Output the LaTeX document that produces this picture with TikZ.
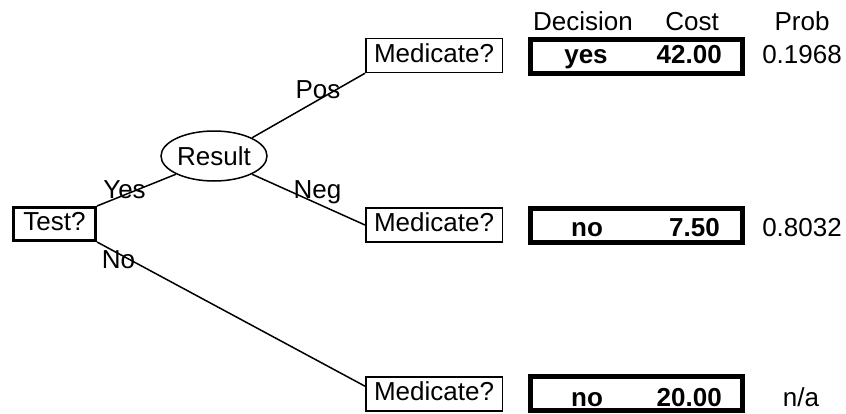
\documentclass[tikz,border=0pt]{standalone}
\usepackage{fontspec}
\setmainfont{Liberation Sans}
\usetikzlibrary{calc,shapes.geometric}
\begin{document}
\begin{tikzpicture}[x=1pt,y=-1pt,
  every node/.style={font=\fontsize{26}{30}\selectfont},
  edge/.style={line width=1.5pt},
  qbox/.style={draw,line width=1.5pt,inner xsep=7pt,inner ysep=4.75pt,text height=19pt,text depth=5.5pt,minimum width=136.5pt,minimum height=34pt},
  tbox/.style={draw,line width=3pt,inner xsep=8pt,inner ysep=4pt,text height=19pt,text depth=5.5pt,minimum width=82pt,minimum height=33pt},
  dbox/.style={draw,line width=5pt,minimum width=212pt,minimum height=34pt,inner sep=0pt},
  chance/.style={draw,ellipse,line width=1.5pt,minimum width=106pt,minimum height=50pt,inner sep=0pt},
  lbl/.style={anchor=base,inner sep=0pt},
  bval/.style={anchor=base,inner sep=0pt,font=\fontsize{26}{30}\selectfont\bfseries}
]
\useasboundingbox (0,0) rectangle (846,413);
\fill[white] (0,0) rectangle (846,413);

\node[tbox] (t) at (54.5,224) {Test?};
\node[chance] (r) at (214,156) {Result};
\node[qbox] (m1) at (434,55.5) {Medicate?};
\node[qbox] (m2) at (434,225) {Medicate?};
\node[qbox] (m3) at (434,394) {Medicate?};

\coordinate (m3in) at ($(m3.north west)!0.28!(m3.south west)$);

\draw[edge] (t.north east) -- (r.south west);
\draw[edge] (r.north east) -- (m1.south west);
\draw[edge] (r.south east) -- (m2.west);
\draw[edge] (t.south east) -- (m3in);

\node[lbl] (lpos) at (318,98) {Pos};
\node[lbl] (lyes) at (124.5,198) {Yes};
\node[lbl] (lneg) at (317.5,198) {Neg};
\node[lbl] (lno) at (118.5,268) {No};

\node[dbox] (d1) at (636.5,56.5) {};
\node[dbox] (d2) at (636.5,225.5) {};
\node[dbox] (d3) at (636.5,393.5) {};

\node[lbl] (hdec) at (583,30) {Decision};
\node[lbl] (hcost) at (692,30) {Cost};
\node[lbl] (hprob) at (802,30) {Prob};

\node[bval] (dec1) at (586,63) {yes};
\node[bval,anchor=base east] (c1) at (722,63) {42.00};
\node[lbl,anchor=base east] (p1) at (842,63) {0.1968};

\node[bval] (dec2) at (587,236.5) {no};
\node[bval,anchor=base east] (c2) at (720,236.5) {7.50};
\node[lbl,anchor=base east] (p2) at (842,236.5) {0.8032};

\node[bval] (dec3) at (587,406) {no};
\node[bval,anchor=base east] (c3) at (722,406) {20.00};
\node[lbl] (p3) at (801,406) {n/a};
\end{tikzpicture}
\end{document}
